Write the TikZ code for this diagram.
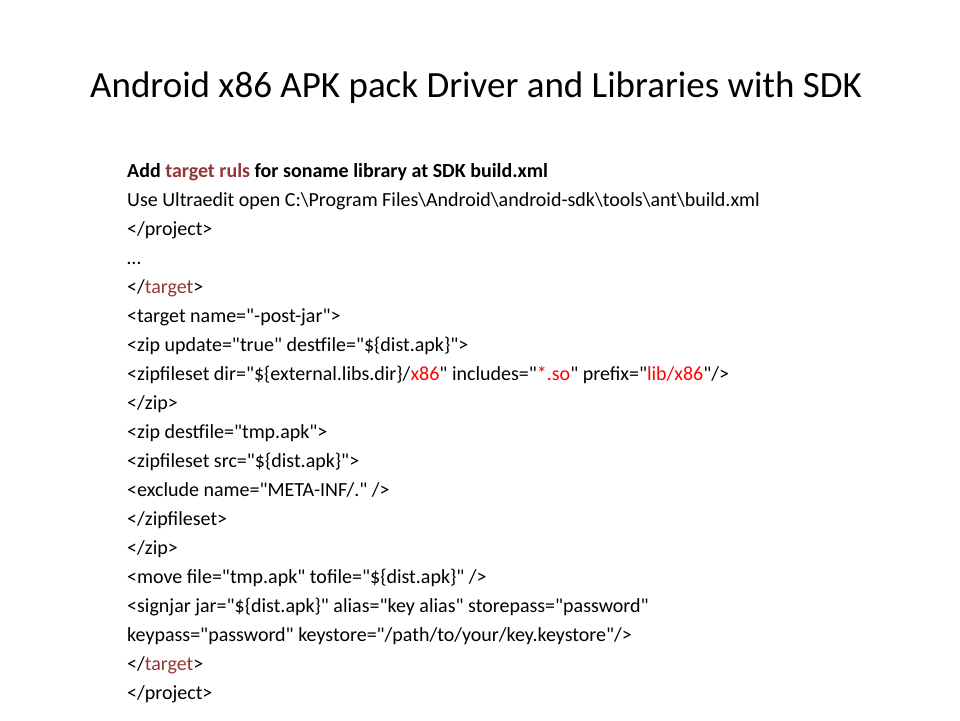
\documentclass[tikz,border=0pt]{standalone}
\usepackage{fontspec}
\setmainfont{Carlito}
\newfontfamily\carl{Carlito}
\definecolor{dred}{HTML}{953735}
\definecolor{bred}{HTML}{FF0000}
\newcommand\qq{{\carl\char34}}
\begin{document}
\begin{tikzpicture}[x=1pt,y=-1pt,
  ln/.style={anchor=base west,inner sep=0pt,font=\fontsize{20}{22}\selectfont}]
\useasboundingbox (0,0) rectangle (960,720);
\node[inner sep=0pt,font=\fontsize{37}{40}\selectfont] (title) at (476,88) {Android x86 APK pack Driver and Libraries with SDK};
\node[ln,font=\fontsize{20}{22}\selectfont\bfseries] (l1) at (127,177) {Add \textcolor{dred}{target ruls} for soname library at SDK build.xml};
\node[ln] (l2) at (127,206) {Use Ultraedit open C:\textbackslash Program Files\textbackslash Android\textbackslash android-sdk\textbackslash tools\textbackslash ant\textbackslash build.xml};
\node[ln] (l3) at (127,235) {</project>};
\node[ln] (l4) at (127,264) {…};
\node[ln] (l5) at (127,293) {</\textcolor{dred}{target}>};
\node[ln] (l6) at (127,322) {<target name=\qq-post-jar\qq>};
\node[ln] (l7) at (127,351) {<zip update=\qq true\qq{} destfile=\qq\$\{dist.apk\}\qq>};
\node[ln] (l8) at (127,380) {<zipfileset dir=\qq\$\{external.libs.dir\}/\textcolor{bred}{x86}\qq{} includes=\qq\textcolor{bred}{*.so}\qq{} prefix=\qq\textcolor{bred}{lib/x86}\qq/>};
\node[ln] (l9) at (127,409) {</zip>};
\node[ln] (l10) at (127,438) {<zip destfile=\qq tmp.apk\qq>};
\node[ln] (l11) at (127,467) {<zipfileset src=\qq\$\{dist.apk\}\qq>};
\node[ln] (l12) at (127,496) {<exclude name=\qq META-INF/.\qq{} />};
\node[ln] (l13) at (127,525) {</zipfileset>};
\node[ln] (l14) at (127,554) {</zip>};
\node[ln] (l15) at (127,583) {<move file=\qq tmp.apk\qq{} tofile=\qq\$\{dist.apk\}\qq{} />};
\node[ln] (l16) at (127,612) {<signjar jar=\qq\$\{dist.apk\}\qq{} alias=\qq key alias\qq{} storepass=\qq password\qq};
\node[ln] (l17) at (127,641) {keypass=\qq password\qq{} keystore=\qq/path/to/your/key.keystore\qq/>};
\node[ln] (l18) at (127,670) {</\textcolor{dred}{target}>};
\node[ln] (l19) at (127,699) {</project>};
\end{tikzpicture}
\end{document}
